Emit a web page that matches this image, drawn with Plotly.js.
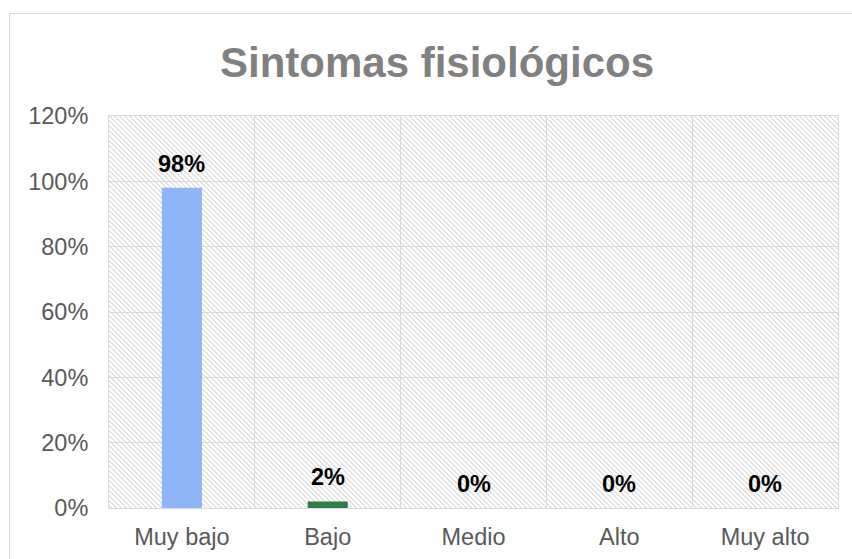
<!DOCTYPE html>
<html>
<head>
<meta charset="utf-8">
<script src="https://cdn.plot.ly/plotly-3.0.1.min.js"></script>
<style>
  html, body { margin: 0; padding: 0; overflow: hidden; background: #fff; }
  #chart { width: 852px; height: 559px; position: absolute; left: 0; top: 0; }
  #frame { position: absolute; left: 9px; top: 13px; width: 900px; height: 600px;
           border: 1px solid #d9d9d9; pointer-events: none; }
</style>
</head>
<body>
<div id="chart"></div>
<div id="frame"></div>
<script>
// ---- data ----
const categories = ["Muy bajo", "Bajo", "Medio", "Alto", "Muy alto"];
const values = [0.98, 0.02, 0, 0, 0];
const barColors = ["#8fb4f7", "#2e7d46", "#8fb4f7", "#8fb4f7", "#8fb4f7"];
const yTickVals = [0, 0.2, 0.4, 0.6, 0.8, 1.0, 1.2];
const chartTitle = "Sintomas fisiológicos";

// ---- hatch background (decoration) ----
const plotW = 729, plotH = 392;
let rects = "";
for (let i = 0; i < 5; i++) {
  rects += `<rect x='${i}' y='${i}' width='1' height='1' fill='#e2e2e2'/>`;
  rects += `<rect x='${(i + 1) % 5}' y='${i}' width='1' height='1' fill='#e2e2e2'/>`;
}
const svg = `<svg xmlns='http://www.w3.org/2000/svg' width='${plotW}' height='${plotH}' shape-rendering='crispEdges'>` +
  `<defs><pattern id='p' width='5' height='5' patternUnits='userSpaceOnUse'>${rects}</pattern></defs>` +
  `<rect width='100%' height='100%' fill='#ffffff'/><rect width='100%' height='100%' fill='url(#p)'/></svg>`;
const hatchURI = "data:image/svg+xml;charset=utf-8," + encodeURIComponent(svg);

const fontFam = "'Liberation Sans', Arial, sans-serif";

const trace = {
  type: "bar",
  x: categories,
  y: values,
  width: 0.275,
  marker: { color: barColors, line: { width: 0 } },
  hoverinfo: "x+y",
  showlegend: false
};

const annotations = categories.map((c, i) => ({
  x: c,
  y: values[i],
  xref: "x",
  yref: "y",
  text: "<b>" + Math.round(values[i] * 100) + "%</b>",
  showarrow: false,
  yanchor: "bottom",
  yshift: 9,
  font: { family: fontFam, size: 23.5, color: "#000000" }
}));

const layout = {
  width: 852,
  height: 559,
  margin: { l: 109, r: 14, t: 116, b: 51, pad: 0 },
  paper_bgcolor: "rgba(0,0,0,0)",
  plot_bgcolor: "rgba(0,0,0,0)",
  title: {
    text: "<b>" + chartTitle + "</b>",
    font: { family: fontFam, size: 42, color: "#808080" },
    xref: "container", x: 437 / 852, xanchor: "center",
    yref: "container", y: 1 - 62 / 559, yanchor: "middle"
  },
  xaxis: {
    type: "category",
    tickson: "boundaries",
    showgrid: true,
    gridcolor: "#d9d9d9",
    gridwidth: 1,
    showline: true,
    linecolor: "#d9d9d9",
    linewidth: 1,
    mirror: true,
    ticks: "",
    ticklabelstandoff: 8,
    tickfont: { family: fontFam, size: 23.5, color: "#595959" },
    fixedrange: true
  },
  yaxis: {
    range: [0, 1.2],
    tickvals: yTickVals,
    tickformat: ".0%",
    showgrid: true,
    gridcolor: "#d9d9d9",
    gridwidth: 1,
    zeroline: false,
    showline: true,
    linecolor: "#d9d9d9",
    linewidth: 1,
    mirror: true,
    ticks: "",
    ticklabelstandoff: 15,
    tickfont: { family: fontFam, size: 23.5, color: "#595959" },
    fixedrange: true
  },
  images: [{
    source: hatchURI,
    xref: "paper", yref: "paper",
    x: 0, y: 1, sizex: 1, sizey: 1,
    xanchor: "left", yanchor: "top",
    sizing: "stretch",
    layer: "below"
  }],
  annotations: annotations,
  bargap: 0.7
};

Plotly.newPlot("chart", [trace], layout, { displayModeBar: false, staticPlot: true });
</script>
</body>
</html>
